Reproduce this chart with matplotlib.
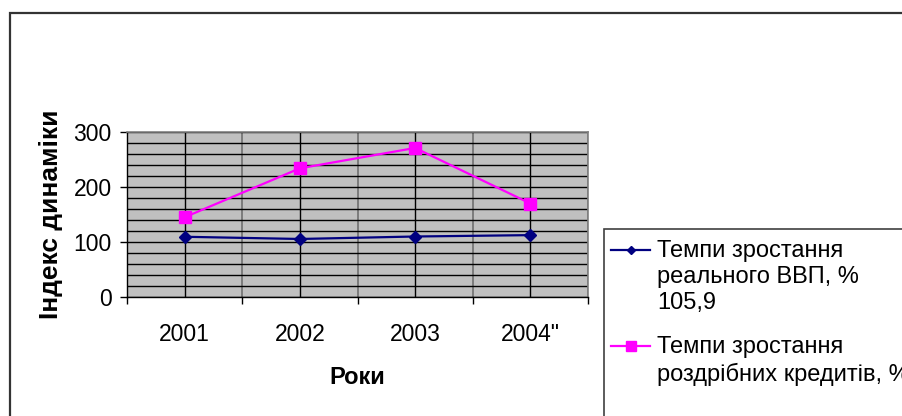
import matplotlib
matplotlib.use('Agg')
from matplotlib import pyplot as plt
from matplotlib.lines import Line2D
from matplotlib.patches import Rectangle

# Data
years = ['2001', '2002', '2003', '2004"']
gdp_growth = [109.5, 105.5, 110.0, 112.5]
credit_growth = [145, 234, 271, 170]

gdp_label = 'Темпи зростання\nреального ВВП, %\n105,9'
credit_label = 'Темпи зростання\nроздрібних кредитів, %'

plt.rcParams['font.family'] = ['Liberation Sans', 'DejaVu Sans']

W, H = 903, 416
fig = plt.figure(figsize=(W / 100, H / 100), dpi=100)

# outer chart frame (runs off the right and bottom edge)
fig.patches.append(Rectangle((10 / W, -0.1), 1.0, 1 - 13 / H + 0.1,
                             transform=fig.transFigure, fill=False,
                             edgecolor='#333333', linewidth=1.6))

ax = fig.add_axes([127 / W, 1 - 297 / H, 461 / W, 165 / H])
ax.set_facecolor('#c0c0c0')

x = list(range(len(years)))
ax.plot(x, gdp_growth, color='#000080', marker='D', markersize=6.2, linewidth=1.6)
ax.plot(x, credit_growth, color='#ff00ff', marker='s', markersize=8, linewidth=1.6)

ax.set_xlim(-0.5, len(years) - 0.5)
ax.set_ylim(0, 300)
ax.set_yticks([0, 100, 200, 300])
ax.set_yticks(range(0, 301, 20), minor=True)
ax.set_xticks(x)
ax.set_xticklabels(years)
ax.set_xticks([i - 0.5 for i in range(len(years) + 1)], minor=True)

ax.grid(True, which='both', axis='y', color='black', linewidth=1)
ax.grid(True, which='major', axis='x', color='black', linewidth=1)
ax.grid(True, which='minor', axis='x', color='#707070', linewidth=1.2)
ax.set_axisbelow(True)

ax.tick_params(axis='y', which='major', direction='out', length=5, width=1,
               labelsize=16.5, pad=6)
ax.tick_params(axis='y', which='minor', length=0)
ax.tick_params(axis='x', which='major', length=0, labelsize=16.5, pad=19)
ax.tick_params(axis='x', which='minor', direction='out', length=5, width=1)

for side in ['top', 'right']:
    ax.spines[side].set_color('#808080')
    ax.spines[side].set_linewidth(1.2)
for side in ['left', 'bottom']:
    ax.spines[side].set_color('black')
    ax.spines[side].set_linewidth(1)

ax.set_ylabel('Індекс динаміки', fontsize=19, fontweight='bold')
ax.yaxis.set_label_coords((63 - 127) / 461, 0.5)
ax.set_xlabel('Роки', fontsize=17, fontweight='bold')
ax.xaxis.set_label_coords(0.5, (297 - 366) / 165)

# legend box, drawn by hand so the handle sits on the first text line
fig.patches.append(Rectangle((604 / W, -0.1), 1.0, 1 - 229 / H + 0.1,
                             transform=fig.transFigure, fill=False,
                             edgecolor='#404040', linewidth=1.2))
entries = [(gdp_label, '#000080', 'D', 4.5, 250),
           (credit_label, '#ff00ff', 's', 6.5, 346)]
for label, color, marker, ms, ypix in entries:
    yf = 1 - ypix / H
    fig.lines.append(Line2D([611 / W, 650 / W], [yf, yf], transform=fig.transFigure,
                            color=color, linewidth=1.6))
    fig.lines.append(Line2D([631 / W], [yf], transform=fig.transFigure,
                            color=color, marker=marker, markersize=ms))
    fig.text(657 / W, yf + 10 / H, label, fontsize=17, ha='left', va='top',
             linespacing=1.25, transform=fig.transFigure)

fig.savefig('out.png', dpi=100)
